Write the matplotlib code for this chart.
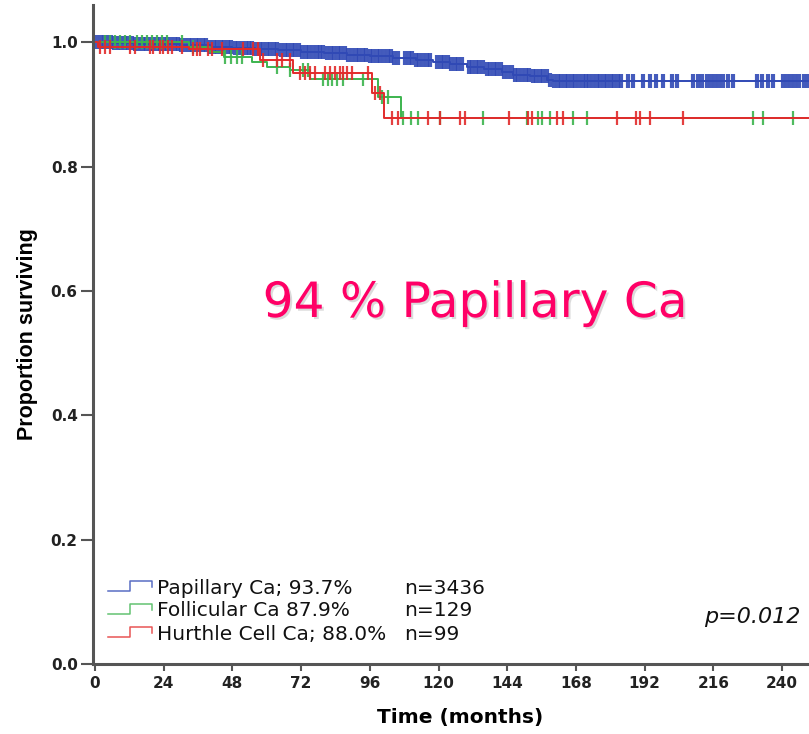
"""
Kaplan-Meier survival by thyroid carcinoma type
"""
import numpy as np
import matplotlib
matplotlib.use('Agg')
import matplotlib.pyplot as plt
import matplotlib.patheffects as pe

# step curves: (time in months, proportion surviving)
pap_t = [0, 6, 14, 22, 30, 40, 48, 56, 64, 72, 80, 88, 96, 104, 112, 118, 124,
         130, 136, 142, 146, 152, 158, 160, 249.5]
pap_s = [1.0, 0.999, 0.998, 0.997, 0.995, 0.993, 0.991, 0.989, 0.987, 0.985,
         0.983, 0.980, 0.978, 0.975, 0.972, 0.968, 0.965, 0.961, 0.957, 0.953,
         0.948, 0.945, 0.940, 0.937, 0.937]

fol_t = [0, 33, 40, 45, 55, 60, 68, 75, 98.8, 107, 249.5]
fol_s = [1.0, 0.992, 0.984, 0.976, 0.968, 0.960, 0.955, 0.941, 0.912, 0.879, 0.879]

hur_t = [0, 1, 33, 57.6, 69, 96.7, 101, 249.5]
hur_s = [1.0, 0.992, 0.989, 0.972, 0.950, 0.918, 0.879, 0.879]

# censoring times
pap_cens = [0.8, 2.0, 3.1, 4.3, 5.6, 6.8, 8.1, 9.2, 10.5, 11.7, 13.0, 14.1, 15.4,
            16.6, 17.9, 19.1, 20.3, 21.6, 22.8, 24.0, 25.3, 26.5, 27.8, 29.0,
            30.2, 31.5, 32.7, 34.0, 35.2, 36.4, 37.7, 38.9, 40.2, 41.4, 42.6,
            43.9, 45.1, 46.4, 47.6, 48.8, 50.1, 51.3, 52.6, 53.8, 55.0, 56.3,
            57.5, 58.8, 60.0, 61.2, 62.5, 63.7, 65.0, 66.2, 67.4, 68.7, 69.9,
            71.2, 72.4, 73.6, 74.9, 76.1, 77.4, 78.6, 79.8, 81.1, 82.3, 83.6,
            84.8, 86.0, 87.3, 88.5, 89.8, 91.0, 92.2, 93.5, 94.7, 96.0, 97.2,
            98.4, 99.7, 100.9, 102.2, 103.4, 104.6, 105.9, 108.3, 109.6, 110.8,
            112.0, 113.3, 114.5, 115.8, 117.0, 119.5, 120.7, 121.9, 123.2, 124.4,
            125.7, 126.9, 128.1, 130.6, 131.8, 133.1, 134.3, 135.5, 136.8, 138.0,
            139.3, 140.5, 141.7, 143.0, 144.2, 145.5, 146.7, 147.9, 149.2, 150.4,
            151.7, 152.9, 154.1, 155.4, 156.6, 157.9, 159.1, 160.3, 161.6, 162.8,
            164.1, 165.3, 166.5, 167.8, 169.0, 170.3, 171.5, 172.7, 174.0, 175.2,
            176.5, 177.7, 178.9, 180.2, 181.4, 182.7, 183.9, 186.2, 187.9, 191.4,
            194.0, 196.0, 198.4, 201.5, 203.3, 209.0, 210.5, 212.0, 213.6, 215.1,
            216.5, 218.0, 219.5, 221.2, 222.8, 231.2, 232.9, 235.2, 236.8, 240.2,
            241.6, 243.0, 244.5, 246.0, 247.5, 249.0]

fol_cens = [3.5, 5.2, 7.0, 8.7, 10.5, 12.2, 14.7, 16.4, 18.2, 19.9, 21.7, 23.4,
            25.1, 30.4, 34.2, 45.5, 47.5, 49.5, 51.5, 63.6, 68.1, 72.7, 74.4,
            79.6, 81.5, 82.8, 84.5, 86.6, 93.6, 100.2, 102.3, 107.6, 110.5, 112.8,
            120.5, 135.5, 150.9, 154.7, 156.1, 159.0, 167.0, 171.9, 229.8, 233.3,
            243.8]

hur_cens = [1.7, 3.5, 5.2, 12.2, 14.0, 19.2, 20.3, 22.7, 23.8, 25.5, 26.9, 30.4,
            34.2, 35.6, 36.7, 39.5, 40.9, 44.4, 51.7, 55.2, 56.9, 58.7, 63.6,
            65.3, 68.1, 71.6, 73.4, 75.1, 76.8, 80.3, 82.1, 83.8, 85.6, 86.6,
            88.0, 89.8, 95.4, 97.8, 99.6, 103.7, 105.8, 116.3, 120.5, 127.5,
            129.2, 144.6, 151.2, 152.6, 161.4, 163.5, 182.3, 189.0, 190.4, 193.9,
            205.4]

labels = ['Papillary Ca; 93.7%', 'Follicular Ca 87.9%', 'Hurthle Cell Ca; 88.0%']
counts = ['n=3436', 'n=129', 'n=99']
colors = ['#3049b5', '#3cb44e', '#e22b2b']

x_ticks = [0, 24, 48, 72, 96, 120, 144, 168, 192, 216, 240]
y_ticks = [0.0, 0.2, 0.4, 0.6, 0.8, 1.0]


def surv_at(times, surv, t):
    idx = np.searchsorted(times, t, side='right') - 1
    return np.asarray(surv)[idx]


fig = plt.figure(figsize=(8.09, 7.34), dpi=100)
ax = fig.add_axes([93 / 809, 70 / 734, 716 / 809, 659 / 734])

curves = [(pap_t, pap_s, pap_cens), (fol_t, fol_s, fol_cens), (hur_t, hur_s, hur_cens)]
mark_w = [3.0, 1.6, 1.6]
for (t, s, cens), c, mw in zip(curves, colors, mark_w):
    ax.step(t, s, where='post', color=c, lw=1.4)
    ax.plot(cens, surv_at(t, s, cens), ls='none', marker='|', ms=9.5,
            mew=mw, color=c, alpha=0.9)

ax.set_xlim(-0.7, 249.4)
ax.set_ylim(0, 1.06)
ax.set_xticks(x_ticks)
ax.set_yticks(y_ticks)
ax.set_yticklabels([f'{v:.1f}' for v in y_ticks])

for side in ['top', 'right']:
    ax.spines[side].set_visible(False)
for side in ['left', 'bottom']:
    ax.spines[side].set_linewidth(2.2)
    ax.spines[side].set_color('#555555')
ax.tick_params(axis='y', length=9, width=1.5, color='#555555', pad=2,
               labelsize=11, labelcolor='#222222')
ax.tick_params(axis='x', length=5, width=1.5, color='#555555', pad=4,
               labelsize=11, labelcolor='#222222')
for lab in ax.get_xticklabels() + ax.get_yticklabels():
    lab.set_fontweight('bold')

ax.set_xlabel('Time (months)', fontsize=14.5, fontweight='bold')
ax.xaxis.set_label_coords((460 - 93) / 716, -44 / 659)
ax.set_ylabel('Proportion surviving', fontsize=15.5, fontweight='bold',
              family='Liberation Sans')
ax.yaxis.set_label_coords(-55 / 716, 0.5)

# big annotation
ax.text((475 - 93) / 716, (664 - 303) / 659, '94 % Papillary Ca',
        transform=ax.transAxes, ha='center', va='center', fontsize=35,
        color='#ff0066',
        path_effects=[pe.withSimplePatchShadow(offset=(1.5, -1.5),
                                               shadow_rgbFace='#999999', alpha=0.35)])

# legend with step glyphs
rows_y = [588, 611, 634]
for yy, lab, n, c in zip(rows_y, labels, counts, colors):
    gx = np.array([108, 130, 130, 152, 152])
    gy = np.array([yy + 3, yy + 3, yy - 7, yy - 7, yy - 1])
    ax.plot((gx - 93) / 716, (664 - gy) / 659, transform=ax.transAxes,
            color=c, lw=1.1, alpha=0.8)
    ax.text((157 - 93) / 716, (664 - yy) / 659, lab, transform=ax.transAxes,
            ha='left', va='center', fontsize=14.5, color='#111111')
    ax.text((404 - 93) / 716, (664 - yy) / 659, n, transform=ax.transAxes,
            ha='left', va='center', fontsize=14.5, color='#111111')

ax.text((800 - 93) / 716, (664 - 617) / 659, 'p=0.012', transform=ax.transAxes,
        ha='right', va='center', fontsize=16, style='italic', color='#111111')

plt.savefig('out.png', dpi=100)
